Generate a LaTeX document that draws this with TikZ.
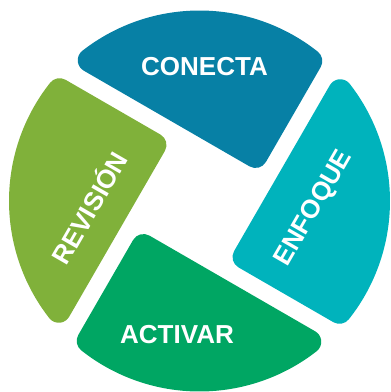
\documentclass[tikz,border=0pt]{standalone}
\usepackage{fontspec}
\setmainfont{Liberation Sans}
\definecolor{cConecta}{HTML}{0780A5}
\definecolor{cEnfoque}{HTML}{00B3BC}
\definecolor{cActivar}{HTML}{00A663}
\definecolor{cRevision}{HTML}{80B13A}
\begin{document}
\begin{tikzpicture}[x=10pt,y=10pt,
  lbl/.style={text=white, inner sep=0pt, font=\fontsize{26}{26}\selectfont\bfseries, text height=18.6pt, text depth=0pt}]
\useasboundingbox (0,0) rectangle (39.1,-39.2);
\pgfmathsetmacro\Rc{19.05}
\pgfmathsetmacro\pA{5.5}
\pgfmathsetmacro\pB{3.8}
\pgfmathsetmacro\pr{1.2}
\pgfmathsetmacro\cax{-sqrt((\Rc-\pr)^2-(\pA+\pr)^2)}
\pgfmathsetmacro\tha{atan2(\pA+\pr,\cax)}
\pgfmathsetmacro\cby{sqrt((\Rc-\pr)^2-(\pB-\pr)^2)}
\pgfmathsetmacro\thb{atan2(\cby,\pB-\pr)}
\begin{scope}[shift={(19.95,-20.1)}, rotate=-30]
\foreach \ang/\col in {0/cConecta,-90/cEnfoque,-180/cActivar,-270/cRevision}{
  \fill[\col, rotate=\ang] (\pB-\pr,\pA) arc[start angle=-90, end angle=0, radius=\pr]
    -- (\pB,\cby) arc[start angle=0, end angle=\thb, radius=\pr]
    arc[start angle=\thb, end angle=\tha, radius=\Rc]
    arc[start angle=\tha, end angle=270, radius=\pr] -- cycle;
}
\end{scope}
\node[lbl] (conecta) at (20.45,-6.6) {CONECTA};
\node[lbl] (activar) at (17.7,-33.4) {ACTIVAR};
\node[lbl, rotate=60] (enfoque) at (31.2,-20.7) {ENFOQUE};
\node[lbl, rotate=60] (revision) at (9.0,-20.8) {REVISIÓN};
\end{tikzpicture}
\end{document}
